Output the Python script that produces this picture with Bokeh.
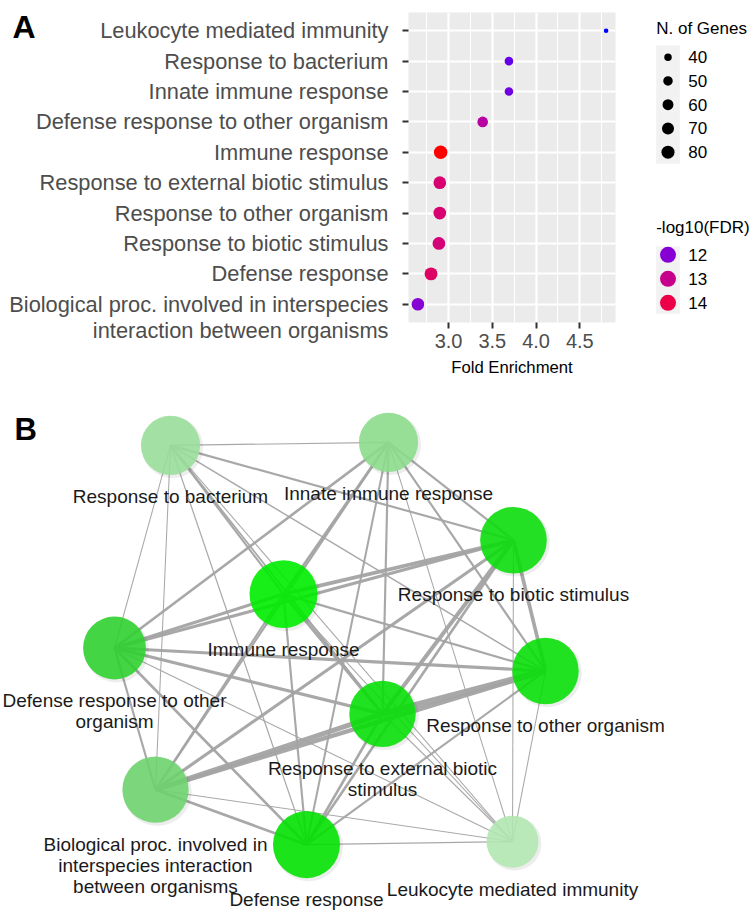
import numpy as np
from bokeh.plotting import figure
from bokeh.layouts import row, column
from bokeh.models import Range1d, FixedTicker, PrintfTickFormatter, Label
from bokeh.core.properties import value
from bokeh.embed import file_html
from bokeh.resources import INLINE

# ---------------- data ----------------
terms_axis = ["Leukocyte mediated immunity", "Response to bacterium", "Innate immune response",
              "Defense response to other organism", "Immune response",
              "Response to external biotic stimulus", "Response to other organism",
              "Response to biotic stimulus", "Defense response",
              "Biological proc. involved in interspecies\ninteraction between organisms"]
terms_net = ["Leukocyte mediated immunity", "Response to bacterium", "Innate immune response",
             "Defense response to other\norganism", "Immune response",
             "Response to external biotic\nstimulus", "Response to other organism",
             "Response to biotic stimulus", "Defense response",
             "Biological proc. involved in\ninterspecies interaction\nbetween organisms"]
fold_enrichment = [4.80, 3.69, 3.69, 3.39, 2.91, 2.90, 2.90, 2.89, 2.80, 2.65]
n_genes = [35, 45, 45, 58, 85, 76, 76, 77, 79, 75]
neg_log10_fdr = [11.4, 11.7, 11.8, 12.7, 14.7, 13.4, 13.4, 13.3, 13.6, 12.0]

x_ticks = [3.0, 3.5, 4.0, 4.5]
size_breaks = [40, 50, 60, 70, 80]
fdr_breaks = [12, 13, 14]

# network layout (node order as terms) and edges (overlap similarity)
node_x = [512, 170, 388, 114, 283, 382, 545, 513, 306, 155]
node_y = [842, 445, 442, 648, 594, 714, 671, 540, 845, 790]
edge_source = [0, 0, 0, 0, 0, 0, 0, 0, 0,
               1, 1, 1, 1, 1, 1, 1, 1,
               2, 2, 2, 2, 2, 2, 2,
               3, 3, 3, 3, 3, 3,
               4, 4, 4, 4, 4,
               5, 5, 5, 5,
               6, 6, 6,
               7, 7,
               8]
edge_target = [1, 2, 3, 4, 5, 6, 7, 8, 9,
               2, 3, 4, 5, 6, 7, 8, 9,
               3, 4, 5, 6, 7, 8, 9,
               4, 5, 6, 7, 8, 9,
               5, 6, 7, 8, 9,
               6, 7, 8, 9,
               7, 8, 9,
               8, 9,
               9]
edge_similarity = [0.12, 0.12, 0.12, 0.12, 0.15, 0.12, 0.12, 0.15, 0.12,
                   0.15, 0.12, 0.30, 0.23, 0.18, 0.30, 0.15, 0.12,
                   0.38, 0.38, 0.30, 0.30, 0.30, 0.28, 0.30,
                   0.46, 0.46, 0.46, 0.46, 0.38, 0.30,
                   0.46, 0.30, 0.54, 0.30, 0.30,
                   1.00, 0.62, 0.38, 0.77,
                   0.54, 0.30, 0.62,
                   0.38, 0.46,
                   0.38]

FONT_NAME = "Liberation Sans"
FONT = value(FONT_NAME)

# ---------------- helpers ----------------
M = np.array([[0.4124564, 0.3575761, 0.1804375],
              [0.2126729, 0.7151522, 0.0721750],
              [0.0193339, 0.1191920, 0.9503041]])
WHITE = np.array([0.95047, 1.0, 1.08883])


def rgb_to_lab(rgb):
    c = np.asarray(rgb, float) / 255
    lin = np.where(c <= 0.04045, c / 12.92, ((c + 0.055) / 1.055) ** 2.4)
    xyz = M @ lin / WHITE
    f = np.where(xyz > 0.008856, np.cbrt(xyz), 7.787 * xyz + 16 / 116)
    return np.array([116 * f[1] - 16, 500 * (f[0] - f[1]), 200 * (f[1] - f[2])])


def lab_to_hex(lab):
    L, a, b = lab
    fy = (L + 16) / 116
    f = np.array([fy + a / 500, fy, fy - b / 200])
    xyz = np.where(f ** 3 > 0.008856, f ** 3, (f - 16 / 116) / 7.787) * WHITE
    lin = np.clip(np.linalg.inv(M) @ xyz, 0, 1)
    c = np.where(lin <= 0.0031308, 12.92 * lin, 1.055 * lin ** (1 / 2.4) - 0.055)
    return "#%02x%02x%02x" % tuple(int(round(v * 255)) for v in np.clip(c, 0, 1))


lo, hi = min(neg_log10_fdr), max(neg_log10_fdr)
LAB_LOW, LAB_HIGH = rgb_to_lab((0, 0, 255)), rgb_to_lab((255, 0, 0))


def fdr_color(v):
    t = (v - lo) / (hi - lo)
    return lab_to_hex(LAB_LOW + t * (LAB_HIGH - LAB_LOW))


nmin, nmax = min(n_genes), max(n_genes)


def dot_diam(n):
    return 4.7 + 8.8 * np.sqrt((n - nmin) / (nmax - nmin))


# ---------------- panel A geometry ----------------
TOP_H = 386
FR_TOP, FR_BOTTOM = 12, 322           # frame of the dot panel (px)
N = len(terms_axis)
ypos = list(range(1, N + 1))
y_lo, y_hi = 0.4, N + 0.6
k = (FR_BOTTOM - FR_TOP) / (y_hi - y_lo)   # px per category unit

span = max(fold_enrichment) - min(fold_enrichment)
x0, x1 = min(fold_enrichment) - 0.05 * span, max(fold_enrichment) + 0.05 * span

# --- the dot panel ---
pA = figure(width=223, height=TOP_H, x_range=Range1d(x0, x1), y_range=Range1d(y_hi, y_lo),
            output_backend="svg", toolbar_location=None, frame_align=False,
            min_border_left=8, min_border_right=8, min_border_top=FR_TOP,
            min_border_bottom=TOP_H - FR_BOTTOM)
pA.background_fill_color = "#ebebeb"
pA.outline_line_color = None

minor = [t - 0.25 for t in x_ticks] + [x_ticks[-1] + 0.25]
pA.xaxis.ticker = FixedTicker(ticks=x_ticks, minor_ticks=minor)
pA.xaxis.formatter = PrintfTickFormatter(format="%.1f")
pA.yaxis.ticker = FixedTicker(ticks=ypos)
pA.yaxis.major_label_overrides = {y: "" for y in ypos}
pA.yaxis.major_label_standoff = 0

for ax in (pA.xaxis[0], pA.yaxis[0]):
    ax.axis_line_color = None
    ax.major_tick_in = 0
    ax.major_tick_out = 6
    ax.major_tick_line_color = "#333333"
    ax.major_tick_line_width = 2
    ax.minor_tick_line_color = None
    ax.major_label_text_font = FONT_NAME
    ax.major_label_text_color = "#4d4d4d"

pA.xaxis.major_label_text_font_size = "20px"
pA.xaxis.major_label_standoff = 5
pA.xaxis.axis_label = "Fold Enrichment"
pA.xaxis.axis_label_text_font = FONT_NAME
pA.xaxis.axis_label_text_font_size = "16.7px"
pA.xaxis.axis_label_text_font_style = "normal"
pA.xaxis.axis_label_text_color = "black"
pA.xaxis.axis_label_standoff = 7

pA.xgrid.grid_line_color = "white"
pA.xgrid.grid_line_width = 2.2
pA.xgrid.minor_grid_line_color = "white"
pA.xgrid.minor_grid_line_width = 1.1
pA.ygrid.grid_line_color = "white"
pA.ygrid.grid_line_width = 2.2

pA.scatter(x=fold_enrichment, y=ypos,
           size=[float(dot_diam(n)) for n in n_genes],
           fill_color=[fdr_color(v) for v in neg_log10_fdr], line_color=None)

# --- category labels of the y axis (same category scale, left of the panel) ---
pAL = figure(width=400, height=TOP_H, x_range=Range1d(0, 400),
             y_range=Range1d(y_lo + (TOP_H - FR_TOP) / k, y_lo - FR_TOP / k),
             x_axis_type=None, y_axis_type=None, output_backend="svg",
             toolbar_location=None, min_border=0, frame_align=False)
pAL.outline_line_color = None
pAL.grid.visible = False
LAB_RIGHT = 388
line_step = 26 / k
lab_x, lab_y, lab_t = [], [], []
for y, lab in zip(ypos, terms_axis):
    for j, line in enumerate(lab.split("\n")):
        lab_x.append(LAB_RIGHT)
        lab_y.append(y + j * line_step)
        lab_t.append(line)
pAL.text(x=lab_x, y=lab_y, text=lab_t, text_align="right", text_baseline="middle",
         text_font=FONT, text_font_size="21.8px", text_color="#4d4d4d")
pAL.text(x=[12], y=[y_lo + (26 - FR_TOP) / k], text=["A"], text_align="left",
         text_baseline="alphabetic", text_font=FONT, text_font_size="32px",
         text_font_style="bold", text_color="black")

# ---------------- legends ----------------
pL = figure(width=127, height=TOP_H, x_range=Range1d(623, 750), y_range=Range1d(TOP_H, 0),
            x_axis_type=None, y_axis_type=None, output_backend="svg", toolbar_location=None,
            min_border=0, frame_align=False)
pL.outline_line_color = None
pL.grid.visible = False

lx, kx0, kx1, tx = 667.5, 655.7, 679.3, 687.7
pL.text(x=[kx0], y=[28], text=["N. of Genes"], text_font=FONT, text_font_size="17px",
        text_baseline="middle", text_align="left", text_color="black")
pL.quad(left=[kx0], right=[kx1], top=[45], bottom=[163.3], fill_color="#f2f2f2", line_color=None)
sy = [56.7 + 23.75 * i for i in range(len(size_breaks))]
pL.scatter(x=[lx] * len(size_breaks), y=sy, size=[float(dot_diam(n)) for n in size_breaks],
           fill_color="black", line_color=None)
pL.text(x=[tx] * len(size_breaks), y=sy, text=[str(b) for b in size_breaks], text_font=FONT,
        text_font_size="17px", text_baseline="middle", text_align="left", text_color="black")

pL.text(x=[kx0], y=[226.7], text=["-log10(FDR)"], text_font=FONT, text_font_size="17px",
        text_baseline="middle", text_align="left", text_color="black")
pL.quad(left=[kx0], right=[kx1], top=[246], bottom=[313.3], fill_color="#f2f2f2", line_color=None)
cy = [254.3 + 24 * i for i in range(len(fdr_breaks))]
pL.scatter(x=[lx] * len(fdr_breaks), y=cy, size=16,
           fill_color=[fdr_color(v) for v in fdr_breaks], line_color=None)
pL.text(x=[tx] * len(fdr_breaks), y=cy, text=[str(b) for b in fdr_breaks], text_font=FONT,
        text_font_size="17px", text_baseline="middle", text_align="left", text_color="black")

# ---------------- panel B (network) ----------------
B_H = 525
pB = figure(width=750, height=B_H, x_range=Range1d(0, 750), y_range=Range1d(912, TOP_H),
            x_axis_type=None, y_axis_type=None, output_backend="svg", toolbar_location=None,
            min_border=0, frame_align=False)
pB.outline_line_color = None
pB.grid.visible = False

pB.multi_line(xs=[[node_x[s], node_x[t]] for s, t in zip(edge_source, edge_target)],
              ys=[[node_y[s], node_y[t]] for s, t in zip(edge_source, edge_target)],
              line_width=[0.3 + 6.2 * w for w in edge_similarity],
              line_color="#a3a3a3", line_alpha=0.95)

radius = [26 + 8 * np.sqrt((n - nmin) / (nmax - nmin)) for n in n_genes]

anchor_t = [0.0, 0.10, 0.18, 0.39, 0.58, 1.0]
anchor_rgb = np.array([(186, 233, 186), (162, 225, 162), (126, 216, 126),
                       (70, 214, 70), (36, 226, 36), (0, 240, 0)], float)
NODE_ALPHA = 0.9


def node_color(v):
    t = (v - lo) / (hi - lo)
    disp = np.array([np.interp(t, anchor_t, anchor_rgb[:, c]) for c in range(3)])
    fill = np.clip((disp - (1 - NODE_ALPHA) * 255) / NODE_ALPHA, 0, 255)
    return "#%02x%02x%02x" % tuple(int(round(c)) for c in fill)


pB.scatter(x=[x + 2 for x in node_x], y=[y + 2 for y in node_y],
           size=[float(2 * r + 2) for r in radius], fill_color="black", fill_alpha=0.07,
           line_color=None)
pB.scatter(x=node_x, y=node_y, size=[float(2 * r) for r in radius],
           fill_color=[node_color(v) for v in neg_log10_fdr], fill_alpha=NODE_ALPHA,
           line_color=None)
pB.text(x=node_x, y=[float(y + r + 11) for y, r in zip(node_y, radius)], text=terms_net,
        text_align="center", text_baseline="top", text_font=FONT, text_font_size="19px",
        text_line_height=1.0, text_color="#1a1a1a")

pB.add_layout(Label(x=14, y=429, text="B", text_align="left", text_baseline="alphabetic",
                    text_font=FONT_NAME, text_font_size="31px", text_font_style="bold",
                    text_color="black"))

layout = column(row(pAL, pA, pL), pB)
open("out.html", "w").write(file_html(layout, INLINE))
